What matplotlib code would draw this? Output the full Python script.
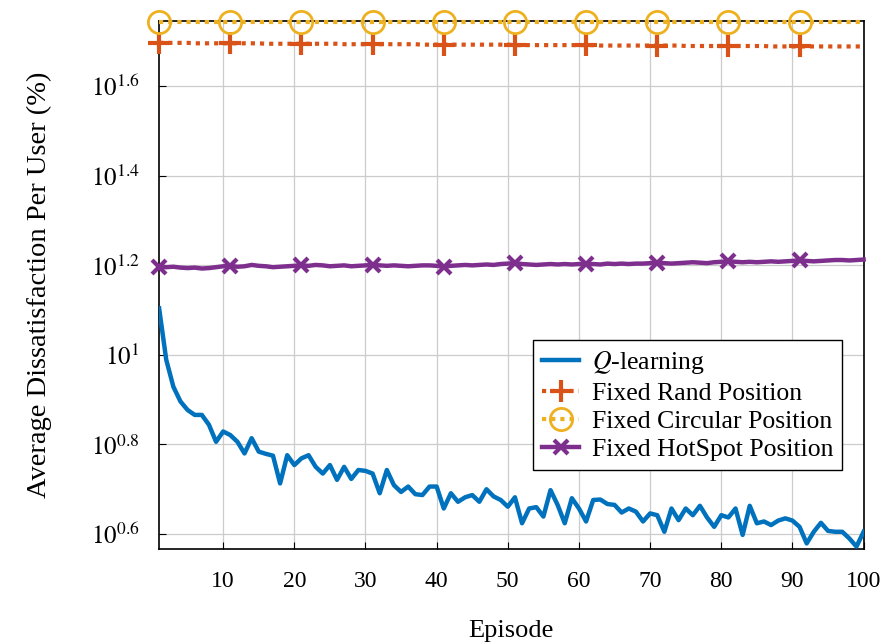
import numpy as np
import matplotlib
matplotlib.use("Agg")
import matplotlib.pyplot as plt
from matplotlib.ticker import FixedLocator, NullLocator

plt.rcParams['font.family'] = ['Liberation Serif', 'DejaVu Serif']
plt.rcParams['mathtext.fontset'] = 'stix'

episodes = np.arange(1, 101)

# values, stored as log10(%)
q_log10 = [
    1.104, 0.989, 0.929, 0.896, 0.877, 0.866, 0.866, 0.844, 0.806, 0.829,
    0.821, 0.806, 0.780, 0.814, 0.784, 0.779, 0.775, 0.713, 0.776, 0.754,
    0.769, 0.776, 0.750, 0.735, 0.754, 0.721, 0.750, 0.723, 0.743, 0.741,
    0.735, 0.691, 0.743, 0.709, 0.694, 0.706, 0.689, 0.687, 0.706, 0.706,
    0.657, 0.691, 0.672, 0.682, 0.687, 0.672, 0.700, 0.684, 0.676, 0.661,
    0.682, 0.624, 0.657, 0.660, 0.639, 0.698, 0.665, 0.624, 0.680, 0.657,
    0.628, 0.676, 0.677, 0.667, 0.665, 0.648, 0.657, 0.650, 0.628, 0.646,
    0.642, 0.605, 0.657, 0.631, 0.657, 0.642, 0.663, 0.637, 0.616, 0.642,
    0.637, 0.657, 0.598, 0.663, 0.624, 0.628, 0.620, 0.630, 0.635, 0.630,
    0.616, 0.579, 0.605, 0.625, 0.607, 0.605, 0.605, 0.590, 0.572, 0.605,
]

rand_log10 = [
    1.697, 1.697, 1.697, 1.697, 1.697, 1.696, 1.696, 1.696, 1.696, 1.696,
    1.696, 1.696, 1.696, 1.696, 1.696, 1.695, 1.695, 1.695, 1.695, 1.695,
    1.695, 1.695, 1.695, 1.695, 1.695, 1.695, 1.694, 1.694, 1.694, 1.694,
    1.694, 1.694, 1.694, 1.694, 1.694, 1.694, 1.694, 1.693, 1.693, 1.693,
    1.693, 1.693, 1.693, 1.693, 1.693, 1.693, 1.693, 1.693, 1.693, 1.693,
    1.692, 1.692, 1.692, 1.692, 1.692, 1.692, 1.692, 1.692, 1.692, 1.692,
    1.692, 1.692, 1.691, 1.691, 1.691, 1.691, 1.691, 1.691, 1.691, 1.691,
    1.691, 1.691, 1.691, 1.691, 1.690, 1.690, 1.690, 1.690, 1.690, 1.690,
    1.690, 1.690, 1.690, 1.690, 1.690, 1.690, 1.689, 1.689, 1.689, 1.689,
    1.689, 1.689, 1.689, 1.689, 1.689, 1.689, 1.689, 1.689, 1.689, 1.689,
]

circ_log10 = [1.743] * 100

hot_log10 = [
    1.197, 1.196, 1.197, 1.195, 1.194, 1.195, 1.193, 1.194, 1.196, 1.198,
    1.199, 1.197, 1.198, 1.201, 1.199, 1.198, 1.196, 1.197, 1.198, 1.199,
    1.200, 1.199, 1.201, 1.200, 1.198, 1.199, 1.200, 1.198, 1.199, 1.200,
    1.201, 1.200, 1.199, 1.200, 1.199, 1.198, 1.199, 1.200, 1.200, 1.199,
    1.197, 1.199, 1.200, 1.201, 1.200, 1.201, 1.202, 1.201, 1.203, 1.204,
    1.205, 1.203, 1.202, 1.201, 1.202, 1.203, 1.202, 1.203, 1.202, 1.203,
    1.202, 1.203, 1.202, 1.204, 1.203, 1.204, 1.203, 1.204, 1.204, 1.205,
    1.206, 1.205, 1.204, 1.205, 1.206, 1.207, 1.206, 1.205, 1.207, 1.208,
    1.209, 1.208, 1.207, 1.208, 1.207, 1.208, 1.209, 1.208, 1.209, 1.210,
    1.211, 1.210, 1.209, 1.210, 1.211, 1.212, 1.212, 1.211, 1.212, 1.213,
]

y_tick_exp = [0.6, 0.8, 1.0, 1.2, 1.4, 1.6]
x_ticks = [10, 20, 30, 40, 50, 60, 70, 80, 90, 100]

fig = plt.figure(figsize=(8.94, 6.44), dpi=100)
ax = fig.add_axes([0.178, 0.1475, 0.788, 0.82])
ax.set_yscale('log')

q = 10 ** np.array(q_log10)
rand = 10 ** np.array(rand_log10)
circ = 10 ** np.array(circ_log10)
hot = 10 ** np.array(hot_log10)

ax.plot(episodes, q, color='#0072BD', lw=3.2, label='$Q$-learning', zorder=3)
ax.plot(episodes, rand, color='#D95319', lw=3, ls=(0, (1, 1.2)),
        marker='+', markevery=10, ms=16, mew=3, label='Fixed Rand Position',
        clip_on=False, zorder=3)
ax.plot(episodes, circ, color='#EDB120', lw=3, ls=(0, (1, 1.2)),
        marker='o', markevery=10, ms=16, mew=2, mfc='none',
        label='Fixed Circular Position', clip_on=False, zorder=3)
ax.plot(episodes, hot, color='#7E2F8E', lw=3.2, marker='x', markevery=10,
        ms=10, mew=3, label='Fixed HotSpot Position', clip_on=False, zorder=3)

ax.set_xlim(1, 100)
ax.set_ylim(10 ** 0.5665, 10 ** 1.746)

ax.xaxis.set_major_locator(FixedLocator(x_ticks))
ax.yaxis.set_major_locator(FixedLocator([10 ** e for e in y_tick_exp]))
ax.yaxis.set_minor_locator(NullLocator())
ax.set_yticklabels(['$10^{%g}$' % e for e in y_tick_exp])
ax.tick_params(direction='in', labelsize=17, length=5, width=0.8)
ax.tick_params(axis='y', pad=14, labelsize=18)
ax.tick_params(axis='x', pad=16)

ax.grid(True, color='#cccccc', lw=0.9)
for s in ax.spines.values():
    s.set_linewidth(1.2)

ax.set_xlabel('Episode', fontsize=19, labelpad=20)
ax.set_ylabel('Average Dissatisfaction Per User (%)', fontsize=20.5, labelpad=28)

leg = ax.legend(loc='lower right', bbox_to_anchor=(0.970, 0.150),
                borderaxespad=0, fontsize=18.5, fancybox=False, edgecolor='black',
                framealpha=1, handlelength=1.45, handletextpad=0.5,
                labelspacing=0.2, borderpad=0.35)
leg.get_frame().set_linewidth(1.0)

fig.savefig('out.png', dpi=100)
